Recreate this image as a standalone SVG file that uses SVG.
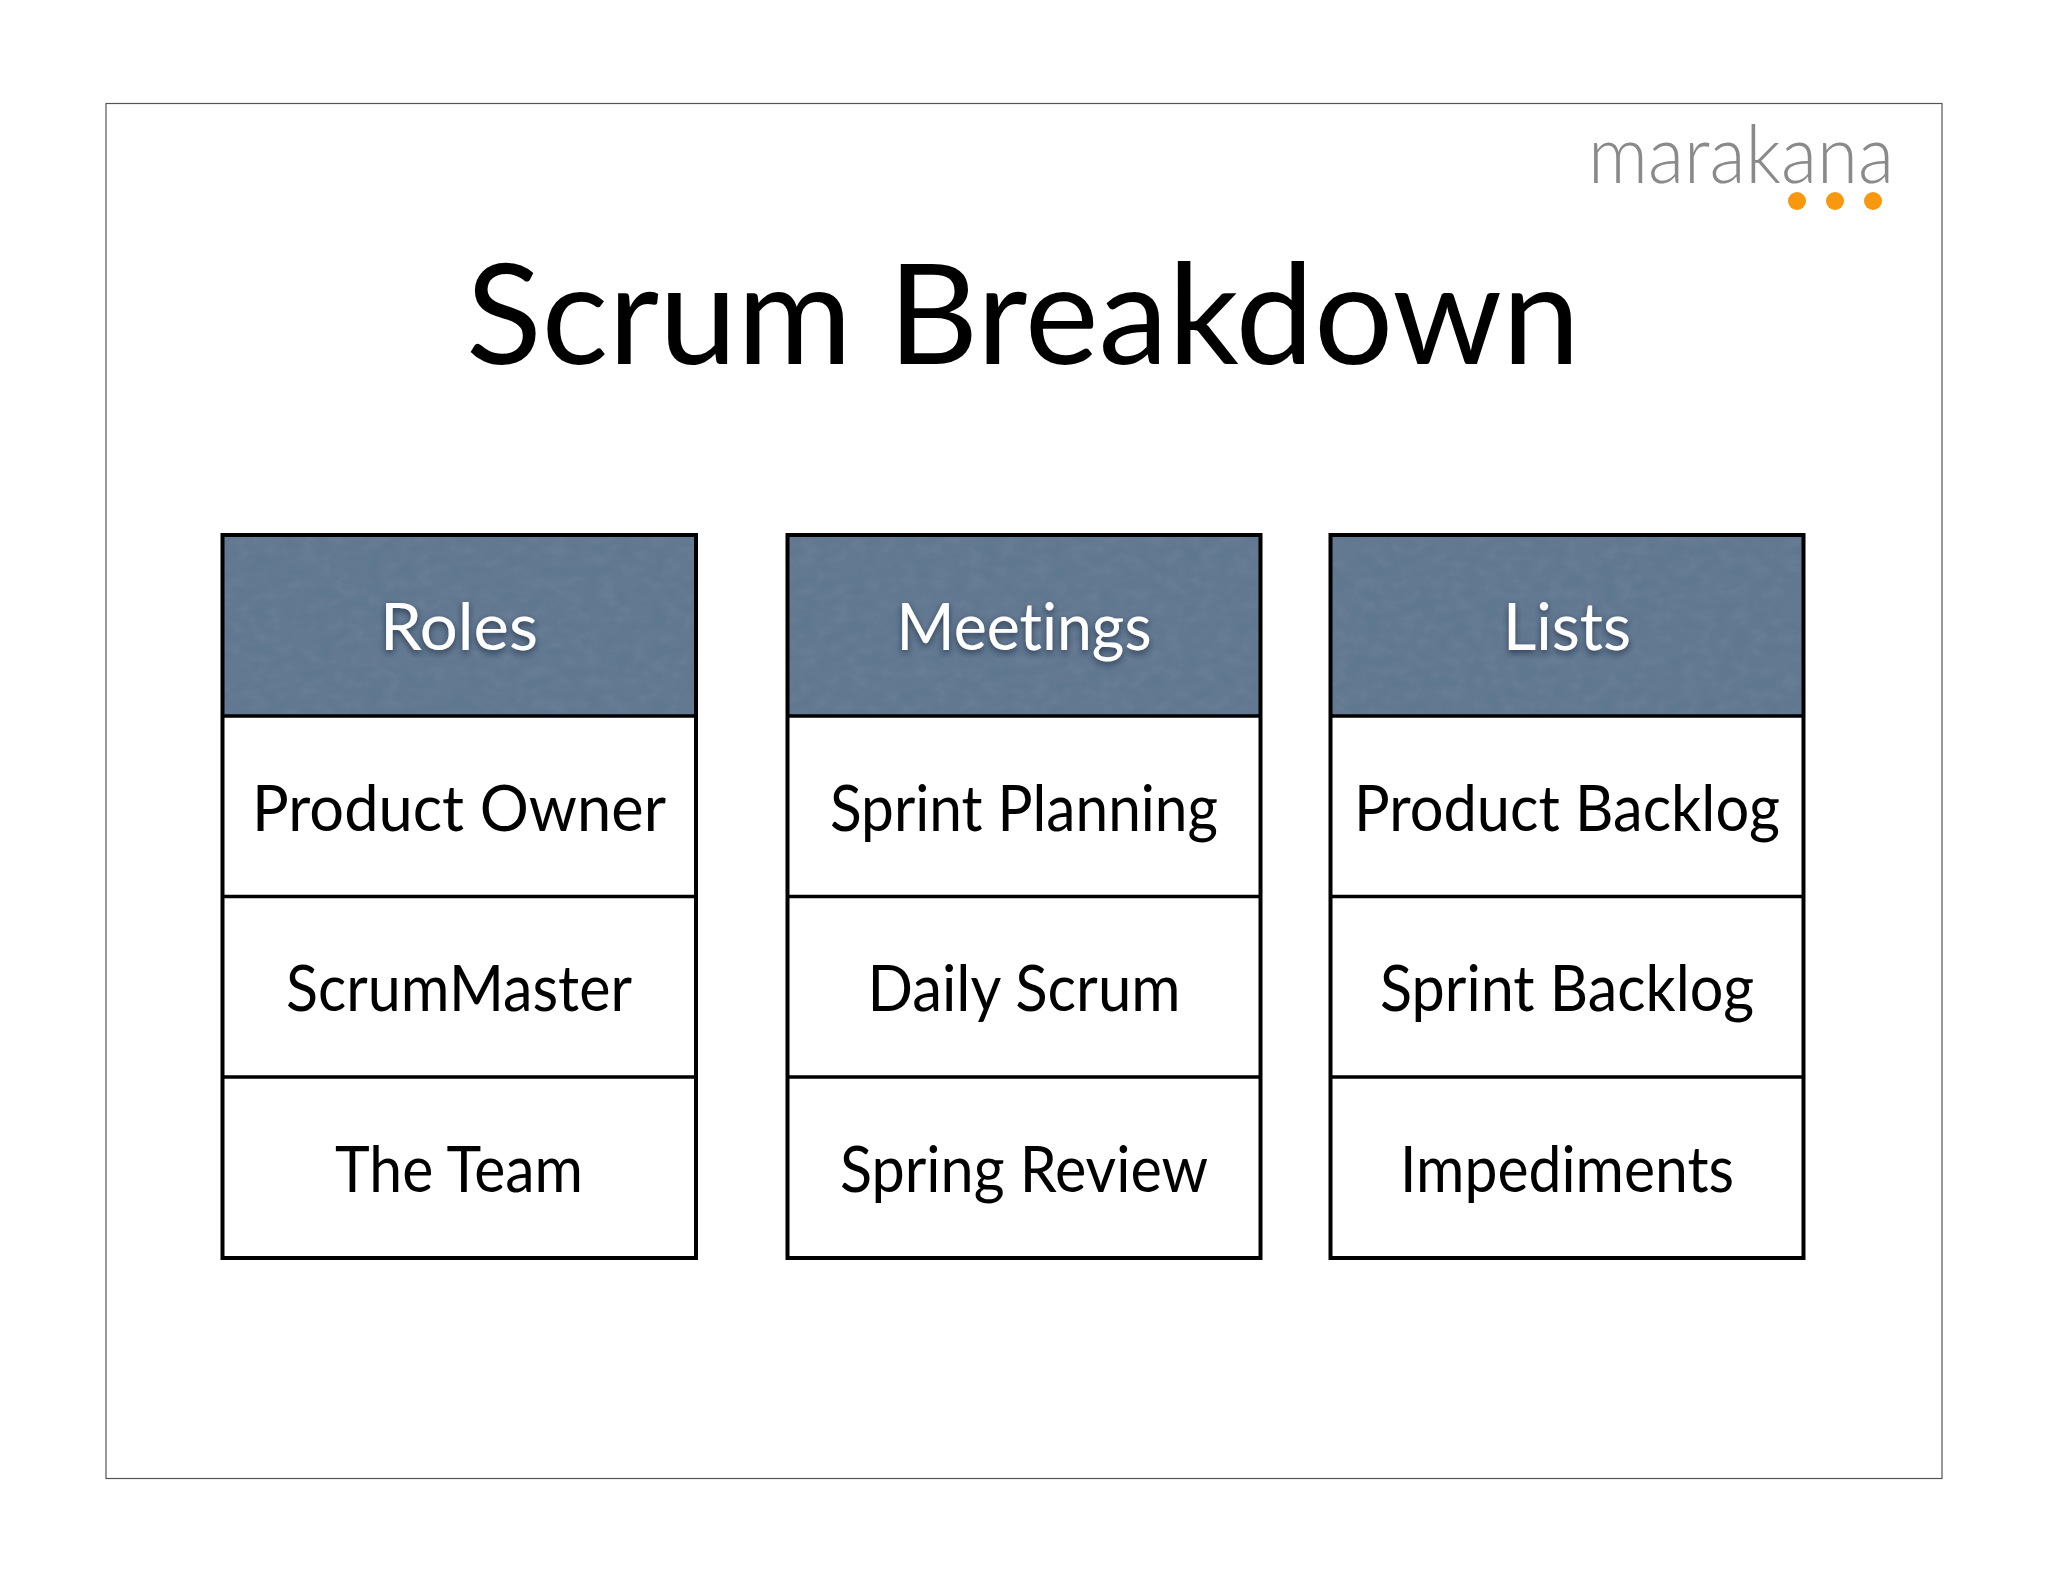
<svg xmlns="http://www.w3.org/2000/svg" width="2048" height="1582" viewBox="0 0 2048 1582">
<style>
text{font-family:"Lato","Open Sans","Liberation Sans",sans-serif;text-anchor:middle;font-variant-ligatures:none}
.t{font-size:140px;fill:#000}
.h{font-size:66px;fill:#fff;filter:url(#sh)}
.c{font-size:63px;fill:#000}
.hd{fill:#607790;filter:url(#noise)}
.b{fill:none;stroke:#000;stroke-width:3.500}
.o{fill:none;stroke:#000;stroke-width:4}
.d{fill:#f7980f}
.l{font-size:80px;font-weight:300;fill:#8a8a8a}
</style>
<defs>
<filter id="sh" x="-20%" y="-20%" width="140%" height="150%"><feDropShadow dx="0" dy="3" stdDeviation="3" flood-color="#1c2a3c" flood-opacity=".75"/></filter>
<filter id="noise" x="0" y="0" width="100%" height="100%"><feTurbulence type="fractalNoise" baseFrequency=".06 .09" numOctaves="3" seed="4"/><feColorMatrix values="0 0 0 0 .22  0 0 0 0 .28  0 0 0 0 .36  .35 0 0 0 -.1"/><feComposite in2="SourceGraphic" operator="over" result="n"/><feComposite in="n" in2="SourceGraphic" operator="in"/></filter>
</defs>
<rect width="2048" height="1582" fill="#fff"/>
<rect id="frame" x="106" y="103.500" width="1836" height="1375" fill="#fff" stroke="#555" stroke-width="1.200"/>
<g id="logo"><text class="l" x="1741" y="183" textLength="306" lengthAdjust="spacingAndGlyphs">marakana</text><circle class="d" cx="1797" cy="201" r="9"/><circle class="d" cx="1835" cy="201" r="9"/><circle class="d" cx="1873" cy="201" r="9"/></g>
<text id="title" class="t" x="1023" y="364" textLength="1114" lengthAdjust="spacingAndGlyphs">Scrum Breakdown</text>
<g id="roles">
<rect class="hd" x="222" y="535" width="474" height="181"/>
<text class="h" x="459" y="650" textLength="158" lengthAdjust="spacingAndGlyphs">Roles</text>
<path class="b" d="M222 716H696M222 896.500H696M222 1077H696"/>
<rect class="o" x="222.500" y="535" width="473.500" height="723"/>
<text class="c" x="459" y="831" textLength="414" lengthAdjust="spacingAndGlyphs">Product Owner</text>
<text class="c" x="459" y="1011" textLength="346" lengthAdjust="spacingAndGlyphs">ScrumMaster</text>
<text class="c" x="459" y="1192" textLength="248" lengthAdjust="spacingAndGlyphs">The Team</text>
</g>
<g id="meetings">
<rect class="hd" x="787" y="535" width="474" height="181"/>
<text class="h" x="1024" y="650" textLength="255" lengthAdjust="spacingAndGlyphs">Meetings</text>
<path class="b" d="M787 716H1261M787 896.500H1261M787 1077H1261"/>
<rect class="o" x="787.500" y="535" width="473" height="723"/>
<text class="c" x="1024" y="831" textLength="388" lengthAdjust="spacingAndGlyphs">Sprint Planning</text>
<text class="c" x="1024" y="1011" textLength="313" lengthAdjust="spacingAndGlyphs">Daily Scrum</text>
<text class="c" x="1024" y="1192" textLength="368" lengthAdjust="spacingAndGlyphs">Spring Review</text>
</g>
<g id="lists">
<rect class="hd" x="1330" y="535" width="474" height="181"/>
<text class="h" x="1567" y="650" textLength="128" lengthAdjust="spacingAndGlyphs">Lists</text>
<path class="b" d="M1330 716H1804M1330 896.500H1804M1330 1077H1804"/>
<rect class="o" x="1330.500" y="535" width="473" height="723"/>
<text class="c" x="1567" y="831" textLength="426" lengthAdjust="spacingAndGlyphs">Product Backlog</text>
<text class="c" x="1567" y="1011" textLength="374" lengthAdjust="spacingAndGlyphs">Sprint Backlog</text>
<text class="c" x="1567" y="1192" textLength="334" lengthAdjust="spacingAndGlyphs">Impediments</text>
</g>
</svg>
